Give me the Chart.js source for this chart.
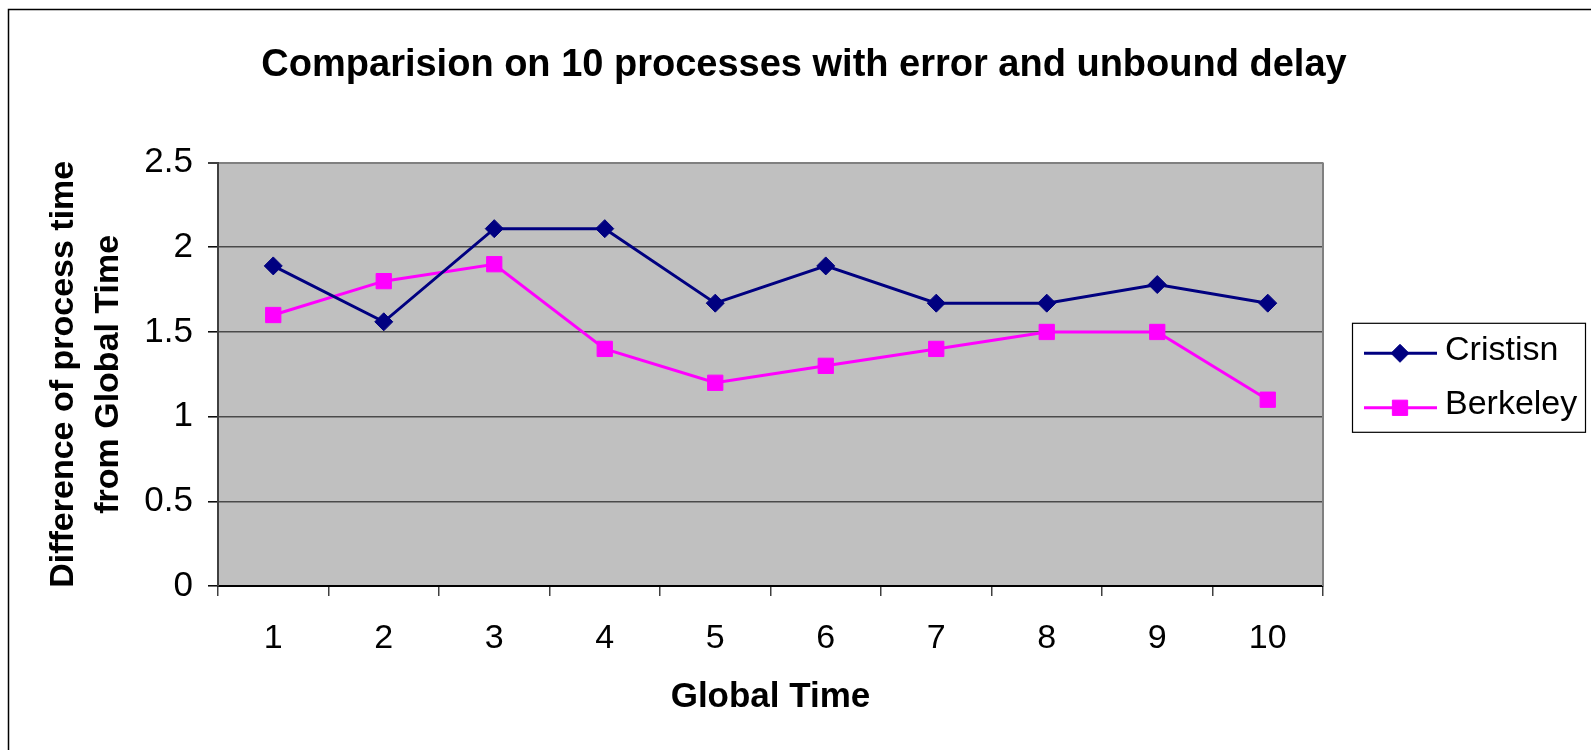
<!DOCTYPE html>
<html>
<head>
<meta charset="utf-8">
<script src="https://cdn.jsdelivr.net/npm/chart.js@4.4.1/dist/chart.umd.min.js"></script>
<style>
  html, body { margin: 0; padding: 0; background: #ffffff; }
  #wrap { width: 1591px; height: 750px; position: relative; }
</style>
</head>
<body>
<div id="wrap"><canvas id="c" width="1591" height="750"></canvas></div>
<script>
// Global time steps (categories)
const globalTime = ['1', '2', '3', '4', '5', '6', '7', '8', '9', '10'];
// Difference of process time from global time, per algorithm
const cristisn = [1.89, 1.56, 2.11, 2.11, 1.67, 1.89, 1.67, 1.67, 1.78, 1.67];
const berkeley = [1.6, 1.8, 1.9, 1.4, 1.2, 1.3, 1.4, 1.5, 1.5, 1.1];
// Value axis tick labels
const yTicks = [0, 0.5, 1, 1.5, 2, 2.5];

const FONT = "'Liberation Sans', Arial, Helvetica, sans-serif";
Chart.defaults.font.family = FONT;
Chart.defaults.color = '#000';

// Grey plot background, right edge of the plot and the outer frame
const framePlugin = {
  id: 'frame',
  beforeDraw(chart) {
    const { ctx, chartArea: a } = chart;
    ctx.save();
    ctx.fillStyle = '#ffffff';
    ctx.fillRect(0, 0, chart.width, chart.height);
    ctx.fillStyle = '#c0c0c0';
    ctx.fillRect(a.left, a.top, a.right - a.left, a.bottom - a.top);
    ctx.strokeStyle = '#000';
    ctx.lineWidth = 1.5;
    ctx.strokeRect(8.5, 9.5, chart.width + 20, chart.height + 20);
    ctx.restore();
  },
  beforeDatasetsDraw(chart) {
    const { ctx, chartArea: a } = chart;
    ctx.save();
    ctx.strokeStyle = '#808080';
    ctx.lineWidth = 2;
    ctx.beginPath();
    ctx.moveTo(a.right, a.top);
    ctx.lineTo(a.right, a.bottom);
    ctx.stroke();
    ctx.restore();
  }
};

// Series key: a layout box on the right showing line + marker for each dataset
function drawKey(chart, box) {
  const ctx = chart.ctx;
  const w = 233, h = 109;
  const x0 = box.left + 29;
  const y0 = (box.top + box.bottom) / 2 - 51.5;
  ctx.save();
  ctx.fillStyle = '#ffffff';
  ctx.fillRect(x0, y0, w, h);
  ctx.strokeStyle = '#000';
  ctx.lineWidth = 1.2;
  ctx.strokeRect(x0 + 0.5, y0 + 0.5, w, h);
  const rows = [30.5, 85];
  chart.data.datasets.forEach((ds, i) => {
    const y = y0 + rows[i];
    ctx.strokeStyle = ds.borderColor;
    ctx.lineWidth = ds.borderWidth;
    ctx.beginPath();
    ctx.moveTo(x0 + 12, y);
    ctx.lineTo(x0 + 85, y);
    ctx.stroke();
    ctx.fillStyle = ds.pointBackgroundColor;
    ctx.strokeStyle = ds.pointBorderColor;
    ctx.lineWidth = ds.pointBorderWidth;
    Chart.helpers.drawPoint(ctx, {
      pointStyle: ds.pointStyle, radius: ds.pointRadius,
      borderWidth: ds.pointBorderWidth, rotation: 0
    }, x0 + 48, y);
    ctx.fillStyle = '#000';
    ctx.font = '34px ' + FONT;
    ctx.textAlign = 'left';
    ctx.textBaseline = 'middle';
    ctx.fillText(ds.label, x0 + 93, y - 3);
  });
  ctx.restore();
}

const keyPlugin = {
  id: 'seriesKey',
  beforeInit(chart) {
    const box = {
      position: 'right', weight: 0, fullSize: false, options: {},
      left: 0, top: 0, right: 0, bottom: 0, width: 0, height: 0,
      isHorizontal() { return false; },
      update(maxWidth, maxHeight) { this.width = 268; this.height = maxHeight; },
      draw() { drawKey(chart, this); }
    };
    Chart.layouts.addBox(chart, box);
  }
};

new Chart(document.getElementById('c'), {
  type: 'line',
  data: {
    labels: globalTime,
    datasets: [
      {
        label: 'Cristisn',
        data: cristisn,
        borderColor: '#000080',
        backgroundColor: '#000080',
        borderWidth: 3,
        pointStyle: 'rectRot',
        pointRadius: 9,
        pointBackgroundColor: '#000080',
        pointBorderColor: '#000080',
        pointBorderWidth: 1,
        tension: 0,
        fill: false
      },
      {
        label: 'Berkeley',
        data: berkeley,
        borderColor: '#ff00ff',
        backgroundColor: '#ff00ff',
        borderWidth: 3,
        pointStyle: 'rect',
        pointRadius: 10.8,
        pointBackgroundColor: '#ff00ff',
        pointBorderColor: '#ff00ff',
        pointBorderWidth: 1,
        tension: 0,
        fill: false
      }
    ]
  },
  options: {
    responsive: false,
    animation: false,
    layout: { padding: { left: 17, right: 0, top: 0, bottom: 0 } },
    plugins: {
      legend: { display: false },
      tooltip: { enabled: false },
      title: {
        display: true,
        text: 'Comparision on 10 processes with error and unbound delay',
        color: '#000',
        font: { family: FONT, size: 38, weight: 'bold', lineHeight: 1.2 },
        padding: { top: 43, bottom: 74 }
      }
    },
    scales: {
      x: {
        type: 'category',
        offset: true,
        grid: {
          offset: true, drawOnChartArea: false, drawTicks: true,
          tickLength: 10, color: '#404040', lineWidth: 1.5
        },
        border: { color: '#000', width: 2 },
        ticks: {
          color: '#000', font: { family: FONT, size: 34 },
          padding: 22, maxRotation: 0, autoSkip: false
        },
        title: {
          display: true, text: 'Global Time', color: '#000',
          font: { family: FONT, size: 35, weight: 'bold', lineHeight: 1.2 },
          padding: { top: 0, bottom: 32 }
        },
        afterFit(s) { s.height = 164; }
      },
      y: {
        min: 0, max: 2.5,
        afterBuildTicks(s) { s.ticks = yTicks.map(v => ({ value: v })); },
        grid: {
          color: c => (c.tick && c.tick.value === 2.5) ? '#808080' : '#4a4a4a',
          lineWidth: c => (c.tick && c.tick.value === 2.5) ? 2 : 1.6,
          tickLength: 10, tickColor: '#000', tickWidth: 1.5
        },
        border: { color: '#404040', width: 2 },
        ticks: {
          color: '#000', font: { family: FONT, size: 35 }, padding: 15,
          callback: v => String(v)
        },
        title: {
          display: true,
          text: ['Difference of process time', 'from Global Time'],
          color: '#000',
          font: { family: FONT, size: 34, weight: 'bold', lineHeight: 1.3 },
          padding: { top: 25, bottom: 0 }
        },
        afterFit(s) { s.width = 201; }
      }
    }
  },
  plugins: [framePlugin, keyPlugin]
});
</script>
</body>
</html>
